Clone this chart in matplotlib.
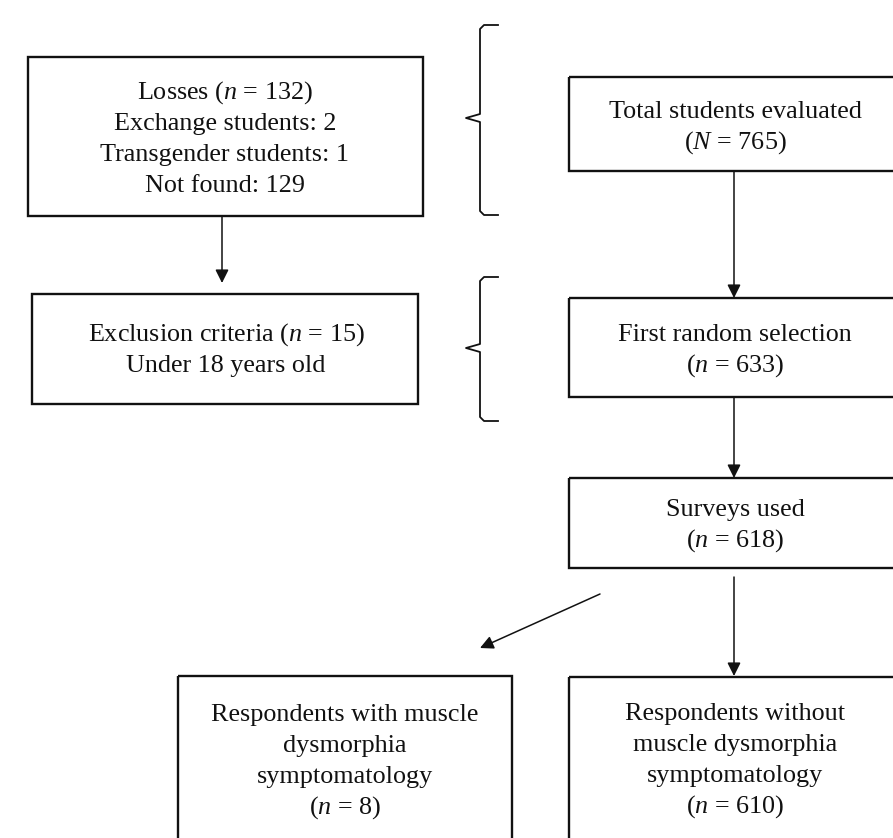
import matplotlib
matplotlib.use('Agg')
import matplotlib.pyplot as plt
from matplotlib.patches import Rectangle

plt.rcParams['font.family'] = ['Liberation Serif', 'DejaVu Serif']
plt.rcParams['mathtext.fontset'] = 'custom'
plt.rcParams['mathtext.rm'] = 'Liberation Serif'
plt.rcParams['mathtext.it'] = 'Liberation Serif:italic'

# flow chart numbers
n_total = 765
n_losses = 132
n_exchange = 2
n_transgender = 1
n_not_found = 129
n_excluded = 15
n_first = 633
n_surveys = 618
n_with_md = 8
n_without_md = 610

# box texts, one list of lines per box
box_lines = [
    [f"Losses ($\\mathit{{n}}$ = {n_losses})", f"Exchange students: {n_exchange}",
     f"Transgender students: {n_transgender}", f"Not found: {n_not_found}"],
    [f"Exclusion criteria ($\\mathit{{n}}$ = {n_excluded})", "Under 18 years old"],
    ["Total students evaluated", f"($\\mathit{{N}}$ = {n_total})"],
    ["First random selection", f"($\\mathit{{n}}$ = {n_first})"],
    ["Surveys used", f"($\\mathit{{n}}$ = {n_surveys})"],
    ["Respondents with muscle", "dysmorphia", "symptomatology",
     f"($\\mathit{{n}}$ = {n_with_md})"],
    ["Respondents without", "muscle dysmorphia", "symptomatology",
     f"($\\mathit{{n}}$ = {n_without_md})"],
]
# box geometry in pixels: left, top, right, bottom
box_geom = [
    (28, 57, 423, 216),
    (32, 294, 418, 404),
    (569, 77, 897, 171),
    (569, 298, 897, 397),
    (569, 478, 897, 568),
    (178, 676, 512, 840),
    (569, 677, 897, 840),
]
# text centre x and first line y, line step
text_x = [225, 226, 735, 735, 735, 345, 735]
text_y0 = [93, 335, 112, 335, 510, 715, 714]
line_step = 31

fig = plt.figure(figsize=(8.93, 8.38), dpi=100)
ax = fig.add_axes([0, 0, 1, 1])
ax.set_xlim(0, 893)
ax.set_ylim(838, 0)
ax.axis('off')

for (x0, y0, x1, y1) in box_geom:
    ax.add_patch(Rectangle((x0, y0), x1 - x0, y1 - y0, fill=False,
                           edgecolor='#111111', lw=1.7))

for lines, tx, ty in zip(box_lines, text_x, text_y0):
    for i, line in enumerate(lines):
        ax.text(tx, ty + i * line_step, line, ha='center', va='center',
                fontsize=18.8, color='#111111')

# arrows: (start, tip)
arrows = [
    ((222, 216), (222, 283)),
    ((734, 171), (734, 298)),
    ((734, 397), (734, 478)),
    ((734, 577), (734, 676)),
    ((600, 594), (480, 648)),
]
for (sx, sy), (ex, ey) in arrows:
    ax.annotate('', xy=(ex, ey), xytext=(sx, sy),
                arrowprops=dict(arrowstyle='-|>', color='#111111', lw=1.1,
                                mutation_scale=20, shrinkA=0, shrinkB=0))

# braces: top, tip, bottom (y)
braces = [(25, 118, 215), (277, 348, 421)]
for top, mid, bot in braces:
    xs = [498, 484, 480, 480, 466, 480, 480, 484, 498]
    ys = [top, top, top + 4, mid - 4, mid, mid + 4, bot - 4, bot, bot]
    ax.plot(xs, ys, color='#111111', lw=1.3, solid_joinstyle='round')

plt.savefig('out.png', dpi=100)
